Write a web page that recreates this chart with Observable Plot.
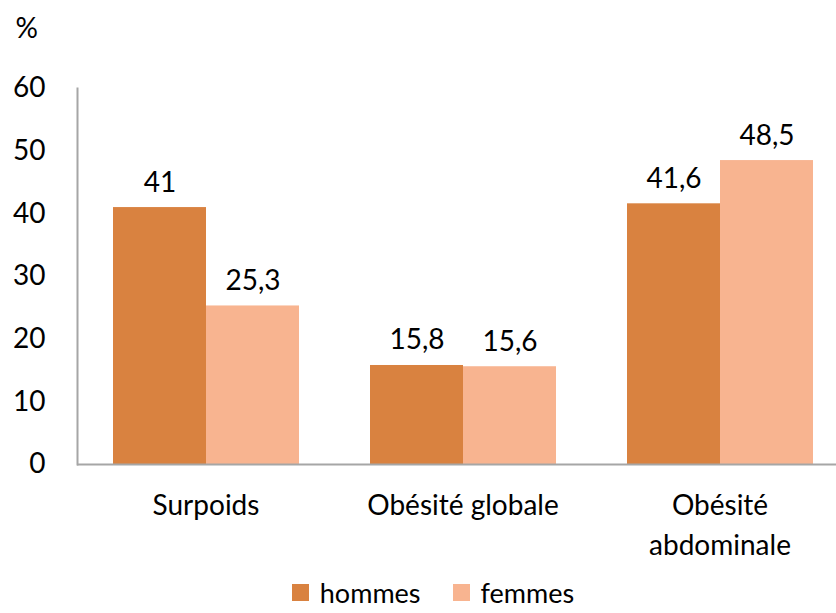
<!DOCTYPE html>
<html><head><meta charset="utf-8">
<script src="https://cdn.jsdelivr.net/npm/d3@7"></script>
<script src="https://cdn.jsdelivr.net/npm/@observablehq/plot@0.6"></script>
<style>
body{margin:0;background:#fff;font-family:Lato,sans-serif;overflow:hidden;}
#legend{display:flex;justify-content:center;align-items:flex-end;font-size:27px;line-height:27px;color:#000;height:32px;margin-left:30px;}
#legend span.sw{display:inline-block;width:17px;height:17px;margin-right:11px;}
#legend .it{display:flex;align-items:center;margin:0 16px;height:27px;}
</style>
</head><body>
<div id="chart" style="height:574px"></div>
<script>
const categories = ["Surpoids", "Obésité globale", "Obésité abdominale"];
const categoryLabels = ["Surpoids", "Obésité globale", "Obésité\nabdominale"];
const sexes = ["hommes", "femmes"];
const hommes = [41, 15.8, 41.6];
const femmes = [25.3, 15.6, 48.5];
const colors = ["#D98240", "#F8B490"];
const yTicks = [0, 10, 20, 30, 40, 50, 60];

const data = [];
categories.forEach((c, i) => {
  data.push({cat: c, sex: "hommes", value: hommes[i]});
  data.push({cat: c, sex: "femmes", value: femmes[i]});
});
const fmt = v => String(v).replace(".", ",");

const plot = Plot.plot({
  width: 836,
  height: 574,
  marginLeft: 76,
  marginRight: -12,
  marginTop: 88,
  marginBottom: 110,
  style: {fontFamily: "Lato, sans-serif", fontSize: "28px", color: "#000", background: "#fff", overflow: "hidden", display: "block"},
  fx: {domain: categories, padding: 0, label: null},
  x: {domain: sexes, paddingInner: 0, paddingOuter: 0.375, axis: null},
  y: {domain: [0, 60], label: null},
  color: {domain: sexes, range: colors},
  marks: [
    Plot.axisY({ticks: yTicks, tickSize: 0, tickPadding: 32, label: null, fill: "#000"}),
    Plot.axisFx({anchor: "bottom", tickSize: 0, tickPadding: 23, label: null, lineHeight: 1.4,
      tickFormat: d => categoryLabels[categories.indexOf(d)], fill: "#000"}),
    Plot.barY(data, {fx: "cat", x: "sex", y: "value", fill: "sex"}),
    Plot.text(data, {fx: "cat", x: "sex", y: "value", text: d => fmt(d.value), lineAnchor: "bottom", dy: -16, fill: "#000"}),
    Plot.ruleY([0], {stroke: "#a6a6a6", strokeWidth: 2}),
    Plot.frame({anchor: "left", facetAnchor: "left", stroke: "#a6a6a6", strokeWidth: 2}),
    Plot.text(["%"], {frameAnchor: "top-left", facetAnchor: "left", dx: -62, dy: -70, textAnchor: "start", fill: "#000"})
  ]
});
document.getElementById("chart").appendChild(plot);

const legend = document.createElement("div");
legend.id = "legend";
sexes.forEach((s, i) => {
  const it = document.createElement("div");
  it.className = "it";
  const sw = document.createElement("span");
  sw.className = "sw";
  sw.style.background = colors[i];
  it.appendChild(sw);
  it.appendChild(document.createTextNode(s));
  legend.appendChild(it);
});
document.body.appendChild(legend);
</script>
</body></html>
